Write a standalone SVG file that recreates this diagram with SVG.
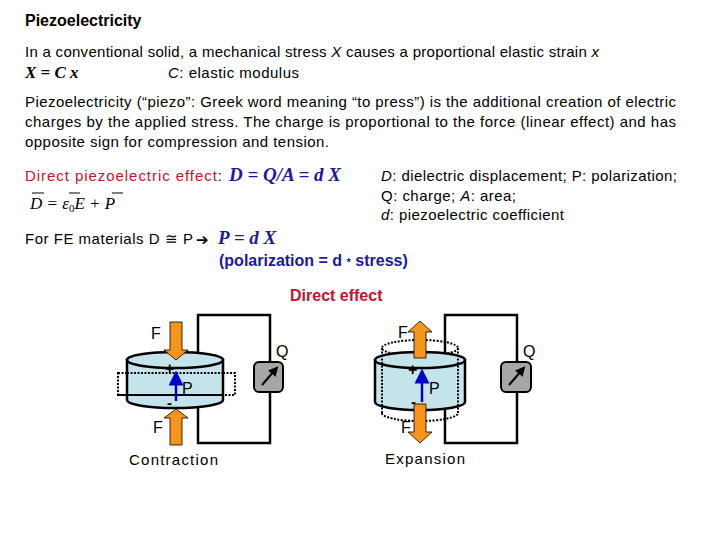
<svg xmlns="http://www.w3.org/2000/svg" width="720" height="540" viewBox="0 0 720 540">
<defs>
<style>
.t{font-family:"Liberation Sans",Arial,sans-serif;font-size:15px;fill:#000}
.m{font-family:"Liberation Serif","Times New Roman",serif;font-weight:bold;font-style:italic;fill:#1a1a9c;font-size:19px}
.b{font-family:"Liberation Sans",Arial,sans-serif;font-weight:bold;fill:#1a1a9c;font-size:16px}
.r{font-family:"Liberation Sans",Arial,sans-serif;fill:#c8102e;font-size:15px}
.cyl{fill:#c5e3ea;stroke:#000;stroke-width:2.5}
.dash{fill:none;stroke:#000;stroke-width:2;stroke-dasharray:2,1.5}
.wire{fill:none;stroke:#000;stroke-width:2.5}
.meter{fill:#a6a6a6;stroke:#000;stroke-width:2}
.arr{fill:#f7941d;stroke:#000;stroke-width:0.8}
.pol{stroke:#0000cc;stroke-width:2.5}
</style>
<marker id="pa" markerWidth="6" markerHeight="6" refX="3" refY="3" orient="auto" markerUnits="strokeWidth"><path d="M0,0 L6,3 L0,6 z" fill="#0000cc"/></marker>
<marker id="ma" markerWidth="5" markerHeight="5" refX="2.5" refY="2.5" orient="auto" markerUnits="strokeWidth"><path d="M0,0 L5,2.5 L0,5 z" fill="#000"/></marker>
</defs>
<text x="25" y="26" class="t" style="font-weight:bold;font-size:16px">Piezoelectricity</text>
<text x="25" y="57" class="t" textLength="574" lengthAdjust="spacing">In a conventional solid, a mechanical stress <tspan font-style="italic">X</tspan> causes a proportional elastic strain <tspan font-style="italic">x</tspan></text>
<text x="25" y="78" style="font-family:'Liberation Serif',serif;font-weight:bold;font-style:italic;font-size:17px">X = C x</text>
<text x="168" y="78" class="t" textLength="131" lengthAdjust="spacing"><tspan font-style="italic">C</tspan>: elastic modulus</text>
<text x="25" y="107" class="t" textLength="651" lengthAdjust="spacing">Piezoelectricity (“piezo”: Greek word meaning “to press”) is the additional creation of electric</text>
<text x="25" y="127" class="t" textLength="651" lengthAdjust="spacing">charges by the applied stress.  The charge is proportional to the force (linear effect) and has</text>
<text x="25" y="147" class="t" textLength="304" lengthAdjust="spacing">opposite sign for compression and tension.</text>
<text x="25" y="181" class="r" textLength="197" lengthAdjust="spacing">Direct piezoelectric effect<tspan fill="#000">:</tspan></text>
<text x="229" y="181" class="m">D = Q/A = d X</text>
<text x="381" y="181" class="t" textLength="296" lengthAdjust="spacing"><tspan font-style="italic">D</tspan>: dielectric displacement; P: polarization;</text>
<text x="381" y="201" class="t" textLength="135" lengthAdjust="spacing">Q: charge; <tspan font-style="italic">A</tspan>: area;</text>
<text x="381" y="220" class="t" textLength="183" lengthAdjust="spacing"><tspan font-style="italic">d</tspan>: piezoelectric coefficient</text>
<text x="30" y="209" style="font-family:'Liberation Serif',serif;font-style:italic;font-size:17px">D = ε<tspan font-size="11" font-style="normal" dy="3">0</tspan><tspan dy="-3">E + P</tspan></text>
<line x1="32" y1="193" x2="44" y2="193" stroke="#000"/>
<line x1="69" y1="193" x2="80" y2="193" stroke="#000"/>
<line x1="112" y1="193" x2="123" y2="193" stroke="#000"/>
<text x="25" y="244" class="t" textLength="168" lengthAdjust="spacing">For FE materials D ≅ P  </text>
<text x="196" y="245" style="font-family:'DejaVu Sans',sans-serif;font-size:15px;font-weight:bold">➔</text>
<text x="218" y="244" class="m">P = d X</text>
<text x="219" y="266" class="b">(polarization = d <tspan font-size="11">*</tspan> stress)</text>
<text x="290" y="301" style="font-family:'Liberation Sans',Arial,sans-serif;font-weight:bold;font-size:16px;fill:#c8102e">Direct effect</text>
<g id="connectors">
<path class="wire" d="M198,360 V315 H270 V362 M270,392 V443 H198 V400"/>
<path class="wire" d="M445,360 V315 H517 V362 M517,392 V443 H445 V402"/>
</g>
<g id="contraction">
<rect class="dash" x="118" y="373" width="117" height="22"/>
<path class="cyl" d="M127,360 V400 A48,8 0 0 0 223,400 V360 Z"/>
<ellipse class="cyl" cx="175" cy="360" rx="48" ry="8"/>
<line class="dash" x1="127" y1="373" x2="223" y2="373"/>
<line x1="118" y1="395" x2="223" y2="395" stroke="#000" stroke-width="2"/>
<path class="arr" d="M170,322 H182 V350 H188 L176,360 L164,350 H170 Z"/>
<path class="arr" d="M170,445 H182 V418 H188 L176,409 L164,418 H170 Z"/>
<line class="pol" x1="176" y1="401" x2="176" y2="378" marker-end="url(#pa)"/>
<text x="165" y="374" class="t" style="font-weight:bold;font-size:16px">+</text>
<text x="167" y="408" class="t" style="font-weight:bold">-</text>
<text x="182" y="394" class="t" style="font-size:16px">P</text>
<text x="151" y="339" class="t" style="font-size:16px">F</text>
<text x="153" y="433" class="t" style="font-size:16px">F</text>
<rect class="meter" x="254" y="362" width="29" height="30" rx="5"/>
<line x1="262" y1="385" x2="275" y2="370" stroke="#000" stroke-width="2" marker-end="url(#ma)"/>
<text x="276" y="357" class="t" style="font-size:16px">Q</text>
<text x="129" y="465" class="t" textLength="89" lengthAdjust="spacing">Contraction</text>
</g>
<g id="expansion">
<ellipse class="dash" cx="420" cy="348" rx="38" ry="8"/>
<path class="dash" d="M382,413 A38,8 0 0 0 458,413"/>
<path class="cyl" d="M375,360 V402 A45,8 0 0 0 465,402 V360 Z"/>
<ellipse class="cyl" cx="420" cy="360" rx="45" ry="8"/>
<path class="dash" d="M382,348 V413 M458,348 V413"/>
<path class="arr" d="M414,358 H426 V332 H432 L420,321 L408,332 H414 Z"/>
<path class="arr" d="M414,404 H426 V432 H432 L420,443 L408,432 H414 Z"/>
<line class="pol" x1="422" y1="402" x2="422" y2="376" marker-end="url(#pa)"/>
<text x="408" y="375" class="t" style="font-weight:bold;font-size:16px">+</text>
<text x="411" y="407" class="t" style="font-weight:bold">-</text>
<text x="429" y="394" class="t" style="font-size:16px">P</text>
<text x="398" y="338" class="t" style="font-size:16px">F</text>
<text x="401" y="433" class="t" style="font-size:16px">F</text>
<rect class="meter" x="501" y="362" width="30" height="30" rx="5"/>
<line x1="509" y1="385" x2="522" y2="370" stroke="#000" stroke-width="2" marker-end="url(#ma)"/>
<text x="523" y="357" class="t" style="font-size:16px">Q</text>
<text x="385" y="464" class="t" textLength="80" lengthAdjust="spacing">Expansion</text>
</g>
</svg>
